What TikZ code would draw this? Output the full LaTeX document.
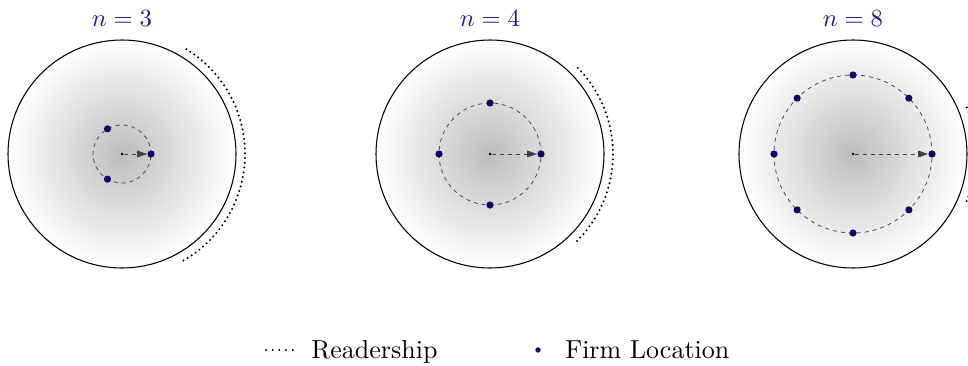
\documentclass[tikz,border=0pt]{standalone}
\usetikzlibrary{arrows.meta}

\definecolor{firmnavy}{RGB}{12,8,100}
\definecolor{labelnavy}{RGB}{30,24,122}
\pgfdeclareradialshading{readerfade}{\pgfpoint{0bp}{0bp}}{color(0bp)=(black!26); color(25bp)=(white); color(50bp)=(white)}

\newcommand{\bigtext}[2][1.95]{\scalebox{#1}{\fontsize{10}{12}\selectfont #2}}

\tikzset{
  market/.style={draw=black, line width=0.8pt, shade, shading=readerfade},
  firmring/.style={draw=black!70, dashed, line width=0.6pt},
  readership/.style={line width=1.7pt, line cap=round, dash pattern=on 0pt off 3.6pt},
  firm/.style={circle, fill=firmnavy, inner sep=0pt, minimum size=5.4pt},
  hub/.style={circle, fill=black, inner sep=0pt, minimum size=2.2pt},
  radius arrow/.style={draw=black!75, dashed, line width=0.6pt, -{Triangle[length=7.5pt,width=5pt]}},
  panel title/.style={text=labelnavy, inner sep=0pt, anchor=base},
  legend text/.style={inner sep=0pt, anchor=base west}
}

\begin{document}
\begin{tikzpicture}[x=0.75pt, y=0.75pt]
  \useasboundingbox (0,0) rectangle (968,365);
  \clip (0,0) rectangle (968,365);

  \foreach \cx/\n/\r [count=\k] in {122/3/29, 490/4/51, 853/8/79}{
    % Market disc
    \coordinate (c\k) at (\cx,211);
    \path[market] (c\k) circle (114);

    % Ring of firms
    \draw[firmring] (c\k) circle (\r);
    \node[hub] (h\k) at (c\k) {};
    \foreach \j [evaluate=\j as \ang using 360*(\j-1)/\n] in {1,...,\n}
      \node[firm] (f\k-\j) at ([shift={(\ang:\r)}]c\k) {};
    \draw[radius arrow] (h\k) -- (f\k-1);

    % Readership of one firm
    \draw[readership] ([shift={(-180/\n:123)}]c\k)
      arc[start angle=-180/\n, end angle=180/\n, radius=123];

    \node[panel title] (t\k) at (\cx,338) {\bigtext[1.85]{$n=\n$}};
  }

  % Legend
  \coordinate (l1) at (266,15);
  \coordinate (l2) at (294,15);
  \draw[readership, dash pattern=on 0pt off 5pt] (l1) -- (l2);
  \node[legend text] (lr) at (311,7) {\bigtext{Readership}};
  \node[firm, minimum size=4pt] (lf) at (538,15) {};
  \node[legend text] (lfl) at (565,7) {\bigtext{Firm Location}};
\end{tikzpicture}
\end{document}
